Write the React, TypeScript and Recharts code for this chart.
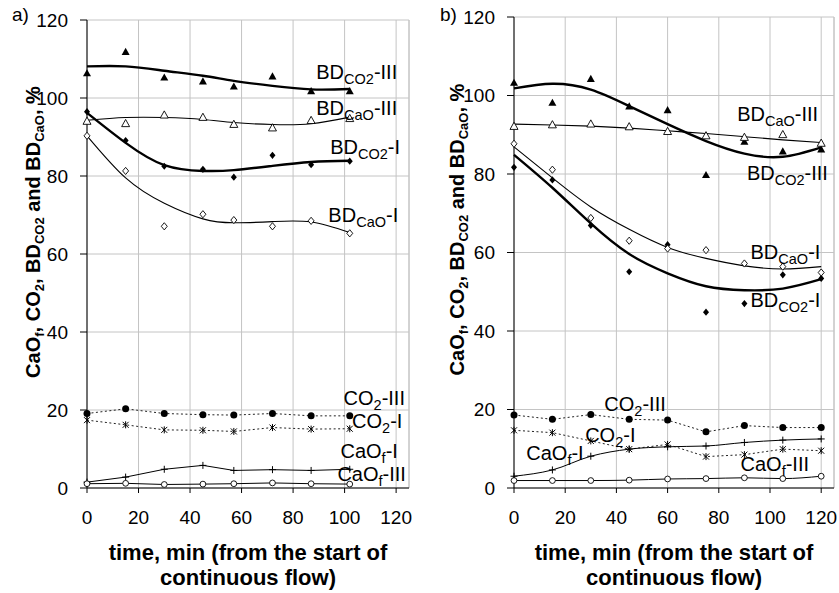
import React from "react";
import { ComposedChart, Line, XAxis, YAxis, CartesianGrid, ReferenceLine, ReferenceDot } from "recharts";

const FONT = "Arial, 'Liberation Sans', Helvetica, sans-serif";
const GRID = "#c4c4c4";

const X_TICKS = [0, 20, 40, 60, 80, 100, 120];
const Y_TICKS = [0, 20, 40, 60, 80, 100, 120];

// a) measured points
const timeA = [0, 15, 30, 45, 57, 72, 87, 102];
const bdCo2IIIA = [106.3, 111.8, 105.2, 104.2, 102.9, 105.5, 101.7, 101.7];
const bdCaoIIIA = [94.0, 93.4, 95.6, 95.0, 93.2, 92.3, 94.2, 94.7];
const bdCo2IA = [96.5, 89.1, 82.5, 81.7, 79.7, 85.3, 82.9, 83.8];
const bdCaoIA = [90.3, 81.3, 67.1, 70.2, 68.7, 67.1, 68.5, 65.3];
const co2IIIA = [19.1, 20.3, 19.1, 18.8, 18.7, 19.1, 18.5, 18.5];
const co2IA = [17.4, 16.2, 14.9, 14.8, 14.5, 15.5, 15.1, 15.2];
const caofIA = [1.5, 2.8, 4.8, 5.8, 4.5, 4.7, 4.5, 4.8];
const caofIIIA = [1.1, 1.2, 0.9, 1.0, 1.1, 1.3, 1.1, 1.0];
// a) trend curves
const fitBdCo2IIIA = [108.1, 108.1, 107.0, 105.7, 104.4, 103.1, 102.2, 102.3];
const fitBdCaoIIIA = [94.3, 95.0, 95.0, 94.5, 93.7, 93.2, 93.4, 95.1];
const fitBdCo2IA = [96.2, 88.5, 82.8, 81.3, 81.5, 82.6, 83.6, 83.9];
const fitBdCaoIA = [90.3, 79.5, 73.0, 69.0, 68.0, 68.3, 68.2, 65.5];

// b) measured points
const timeB = [0, 15, 30, 45, 60, 75, 90, 105, 120];
const bdCo2IIIB = [103.2, 98.1, 104.2, 97.2, 96.2, 79.7, 88.2, 85.7, 86.2];
const bdCaoIIIB = [92.1, 92.5, 92.7, 92.0, 90.8, 89.7, 89.3, 90.0, 87.8];
const bdCo2IB = [81.7, 78.5, 66.9, 55.1, 62.0, 44.8, 47.0, 54.3, 53.4];
const bdCaoIB = [87.7, 81.1, 68.8, 63.0, 61.0, 60.6, 57.2, 56.4, 54.9];
const co2IIIB = [18.6, 17.5, 18.7, 17.5, 17.3, 14.3, 15.9, 15.4, 15.4];
const co2IB = [14.7, 14.1, 12.0, 9.9, 11.1, 8.0, 8.5, 9.9, 9.5];
const caofIB = [3.0, 4.6, 8.1, 9.9, 10.5, 10.7, 11.6, 12.2, 12.5];
const caofIIIB = [1.9, 1.9, 1.9, 2.0, 2.3, 2.4, 2.6, 2.4, 3.0];
// b) trend curves
const fitBdCo2IIIB = [101.8, 103.0, 101.5, 97.3, 92.7, 88.4, 85.2, 84.4, 86.8];
const fitBdCaoIIIB = [92.7, 92.5, 92.2, 91.7, 91.0, 90.3, 89.5, 88.7, 88.0];
const fitBdCo2IB = [84.9, 76.5, 67.4, 59.6, 54.7, 51.4, 50.4, 50.8, 53.2];
const fitBdCaoIB = [86.9, 79.0, 71.6, 65.9, 61.3, 58.5, 56.6, 55.8, 56.4];

// series names, placed in data coordinates (t, value)
const labelsA = [
  { text: "BD_{CO2}-III", t: 89, v: 106.6 },
  { text: "BD_{CaO}-III", t: 89, v: 97.4 },
  { text: "BD_{CO2}-I", t: 94.4, v: 87.4 },
  { text: "BD_{CaO}-I", t: 93.7, v: 70 },
  { text: "CO_{2}-III", t: 99.6, v: 23.2 },
  { text: "CO_{2}-I", t: 102.9, v: 17.3 },
  { text: "CaO_{f}-I", t: 98.4, v: 9.6 },
  { text: "CaO_{f}-III", t: 97.2, v: 3.7 },
];
const labelsB = [
  { text: "BD_{CaO}-III", t: 87.2, v: 95.2 },
  { text: "BD_{CO2}-III", t: 91, v: 80.2 },
  { text: "BD_{CaO}-I", t: 92.4, v: 60.2 },
  { text: "BD_{CO2}-I", t: 92.4, v: 47.8 },
  { text: "CO_{2}-III", t: 35.3, v: 21.5 },
  { text: "CO_{2}-I", t: 27.8, v: 13.5 },
  { text: "CaO_{f}-I", t: 4.8, v: 8.9 },
  { text: "CaO_{f}-III", t: 88.5, v: 6.2 },
];

const Y_TITLE = "CaO_{f}, CO_{2}, BD_{CO2} and BD_{CaO}, %";

function buildRows(time: number[], s: Record<string, number[]>) {
  return time.map((t, i) => {
    const row: Record<string, number> = { t };
    Object.keys(s).forEach((k) => (row[k] = s[k][i]));
    return row;
  });
}

const rowsA = buildRows(timeA, {
  bdCo2III: bdCo2IIIA, bdCaoIII: bdCaoIIIA, bdCo2I: bdCo2IA, bdCaoI: bdCaoIA,
  co2III: co2IIIA, co2I: co2IA, caofI: caofIA, caofIII: caofIIIA,
  fitBdCo2III: fitBdCo2IIIA, fitBdCaoIII: fitBdCaoIIIA, fitBdCo2I: fitBdCo2IA, fitBdCaoI: fitBdCaoIA,
});
const rowsB = buildRows(timeB, {
  bdCo2III: bdCo2IIIB, bdCaoIII: bdCaoIIIB, bdCo2I: bdCo2IB, bdCaoI: bdCaoIB,
  co2III: co2IIIB, co2I: co2IB, caofI: caofIB, caofIII: caofIIIB,
  fitBdCo2III: fitBdCo2IIIB, fitBdCaoIII: fitBdCaoIIIB, fitBdCo2I: fitBdCo2IB, fitBdCaoI: fitBdCaoIB,
});

function parseSegs(s: string) {
  const out: { t: string; sub: boolean }[] = [];
  const re = /_\{([^}]*)\}/g;
  let last = 0;
  let m: RegExpExecArray | null;
  while ((m = re.exec(s))) {
    if (m.index > last) out.push({ t: s.slice(last, m.index), sub: false });
    out.push({ t: m[1], sub: true });
    last = re.lastIndex;
  }
  if (last < s.length) out.push({ t: s.slice(last), sub: false });
  return out;
}

function RichText({ x, y, text, size, subSize, shift, bold, anchor, rotate }: any) {
  let cur = 0;
  return (
    <text
      x={x}
      y={y}
      fill="#000"
      fontFamily={FONT}
      fontSize={size}
      fontWeight={bold ? "bold" : "normal"}
      textAnchor={anchor || "start"}
      transform={rotate ? `rotate(${rotate} ${x} ${y})` : undefined}
    >
      {parseSegs(text).map((sg, i) => {
        const target = sg.sub ? shift : 0;
        const dy = target - cur;
        cur = target;
        return (
          <tspan key={i} dy={dy || undefined} fontSize={sg.sub ? subSize : size}>
            {sg.t}
          </tspan>
        );
      })}
    </text>
  );
}

function Marker({ cx, cy, kind }: { cx: number; cy: number; kind: string }) {
  const k = "#000";
  switch (kind) {
    case "triFill":
      return <polygon points={`${cx},${cy - 4.3} ${cx - 4},${cy + 2.9} ${cx + 4},${cy + 2.9}`} fill={k} />;
    case "triOpen":
      return <polygon points={`${cx},${cy - 4.3} ${cx - 4},${cy + 2.9} ${cx + 4},${cy + 2.9}`} fill="#fff" stroke={k} strokeWidth={0.9} />;
    case "diaFill":
      return <polygon points={`${cx},${cy - 3.6} ${cx + 3},${cy} ${cx},${cy + 3.6} ${cx - 3},${cy}`} fill={k} />;
    case "diaOpen":
      return <polygon points={`${cx},${cy - 3.6} ${cx + 3},${cy} ${cx},${cy + 3.6} ${cx - 3},${cy}`} fill="#fff" stroke={k} strokeWidth={0.9} />;
    case "dotFill":
      return <circle cx={cx} cy={cy} r={3.5} fill={k} />;
    case "dotOpen":
      return <circle cx={cx} cy={cy} r={2.9} fill="#fff" stroke={k} strokeWidth={0.9} />;
    case "star":
      return (
        <g stroke={k} strokeWidth={1}>
          <line x1={cx - 3} y1={cy - 3} x2={cx + 3} y2={cy + 3} />
          <line x1={cx - 3} y1={cy + 3} x2={cx + 3} y2={cy - 3} />
          <line x1={cx} y1={cy - 3.5} x2={cx} y2={cy + 3.5} />
        </g>
      );
    default:
      return (
        <g stroke={k} strokeWidth={1}>
          <line x1={cx - 3.5} y1={cy} x2={cx + 3.5} y2={cy} />
          <line x1={cx} y1={cy - 3.5} x2={cx} y2={cy + 3.5} />
        </g>
      );
  }
}

const dotOf = (kind: string) => (p: any) => {
  const key = `${kind}-${p.index}`;
  if (p.cx == null || p.cy == null) return <g key={key} />;
  return <Marker key={key} cx={p.cx} cy={p.cy} kind={kind} />;
};

function XTitle({ viewBox }: any) {
  const cx = viewBox.x + viewBox.width / 2;
  return (
    <g fontFamily={FONT} fontSize={22} fontWeight="bold" fill="#000" textAnchor="middle">
      <text x={cx} y={viewBox.y + 72}>time, min (from the start of</text>
      <text x={cx} y={viewBox.y + 97}>continuous flow)</text>
    </g>
  );
}

function YTitle({ viewBox, dx, dy }: any) {
  const x = viewBox.x + viewBox.width + dx + 7;
  const y = viewBox.y + viewBox.height / 2 + dy;
  return <RichText x={x} y={y} text={Y_TITLE} size={20} subSize={13} shift={4} bold anchor="middle" rotate={-90} />;
}

const TICK = { fill: "#000", fontSize: 19, fontFamily: FONT };

function Panel({ rows, labels, width, margin, caofType, titleDx, titleDy }: any) {
  return (
    <ComposedChart width={width} height={593} data={rows} margin={margin}>
      <CartesianGrid stroke={GRID} strokeWidth={1} />
      <ReferenceLine x={125} stroke={GRID} strokeWidth={1} />
      <XAxis
        type="number"
        dataKey="t"
        domain={[0, 125]}
        ticks={X_TICKS}
        interval={0}
        height={30}
        tickSize={5}
        tickMargin={18}
        stroke="#000"
        tick={TICK}
        label={(p: any) => <XTitle {...p} />}
      />
      <YAxis
        type="number"
        domain={[0, 120]}
        ticks={Y_TICKS}
        interval={0}
        width={60}
        tickSize={7}
        tickMargin={12}
        stroke="#000"
        tick={TICK}
        label={(p: any) => <YTitle {...p} dx={titleDx} dy={titleDy} />}
      />
      <Line dataKey="fitBdCo2III" type="natural" stroke="#000" strokeWidth={2.4} dot={false} activeDot={false} isAnimationActive={false} />
      <Line dataKey="fitBdCaoIII" type="natural" stroke="#000" strokeWidth={1.1} dot={false} activeDot={false} isAnimationActive={false} />
      <Line dataKey="fitBdCo2I" type="natural" stroke="#000" strokeWidth={2.4} dot={false} activeDot={false} isAnimationActive={false} />
      <Line dataKey="fitBdCaoI" type="natural" stroke="#000" strokeWidth={1.1} dot={false} activeDot={false} isAnimationActive={false} />
      <Line dataKey="co2III" type="linear" stroke="#222" strokeWidth={1} strokeDasharray="2 2.5" dot={dotOf("dotFill")} activeDot={false} isAnimationActive={false} />
      <Line dataKey="co2I" type="linear" stroke="#222" strokeWidth={1} strokeDasharray="2 2.5" dot={dotOf("star")} activeDot={false} isAnimationActive={false} />
      <Line dataKey="caofI" type={caofType} stroke="#000" strokeWidth={1} dot={dotOf("plus")} activeDot={false} isAnimationActive={false} />
      <Line dataKey="caofIII" type={caofType} stroke="#000" strokeWidth={1} dot={dotOf("dotOpen")} activeDot={false} isAnimationActive={false} />
      <Line dataKey="bdCo2III" stroke="none" dot={dotOf("triFill")} activeDot={false} isAnimationActive={false} />
      <Line dataKey="bdCaoIII" stroke="none" dot={dotOf("triOpen")} activeDot={false} isAnimationActive={false} />
      <Line dataKey="bdCo2I" stroke="none" dot={dotOf("diaFill")} activeDot={false} isAnimationActive={false} />
      <Line dataKey="bdCaoI" stroke="none" dot={dotOf("diaOpen")} activeDot={false} isAnimationActive={false} />
      {labels.map((l: any) => (
        <ReferenceDot
          key={l.text}
          x={l.t}
          y={l.v}
          r={0}
          stroke="none"
          fill="none"
          label={(p: any) => (
            <RichText x={p.viewBox.x} y={p.viewBox.y + 7} text={l.text} size={20} subSize={14.5} shift={5} />
          )}
        />
      ))}
    </ComposedChart>
  );
}

const tag: React.CSSProperties = {
  position: "absolute",
  top: 5,
  fontFamily: FONT,
  fontSize: 19,
  lineHeight: "19px",
  color: "#000",
};

export default function App() {
  return (
    <div style={{ position: "absolute", left: 0, top: 0, width: 839, height: 593, background: "#fff" }}>
      <div style={{ position: "absolute", left: 0, top: 0 }}>
        <Panel rows={rowsA} labels={labelsA} width={420} margin={{ top: 20, right: 11, bottom: 75, left: 27 }} caofType="linear" titleDx={-54} titleDy={-22} />
      </div>
      <div style={{ position: "absolute", left: 420, top: 0 }}>
        <Panel rows={rowsB} labels={labelsB} width={419} margin={{ top: 17, right: 5, bottom: 75, left: 34 }} caofType="monotone" titleDx={-57} titleDy={-23} />
      </div>
      <div style={{ ...tag, left: 12 }}>a)</div>
      <div style={{ ...tag, left: 440 }}>b)</div>
    </div>
  );
}
